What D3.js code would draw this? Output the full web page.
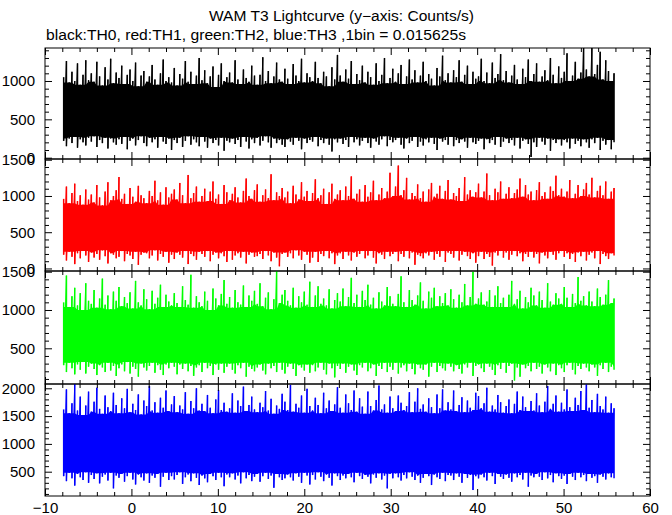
<!DOCTYPE html>
<html><head><meta charset="utf-8">
<script src="https://cdn.jsdelivr.net/npm/d3@7"></script>
<style>
html,body{margin:0;padding:0;background:#fff;}
svg text{font-family:"Liberation Sans",Arial,sans-serif;fill:#000;}
</style></head>
<body><svg id="c" width="672" height="515"></svg>
<script>
// ---- data ----
const title = "WAM T3 Lightcurve (y\u2212axis: Counts/s)";
const subtitle = "black:TH0, red:TH1, green:TH2, blue:TH3 ,1bin = 0.015625s";
const xTickValues = [-10, 0, 10, 20, 30, 40, 50, 60];
const tStart = -8;      // s, start of light curve
const envBin = 0.32;    // s, width of each envelope sample (max / min of raw bins)

const blackHi = [1050,1260,980,1120,1000,1230,950,1080,1270,1010,
1100,990,1250,1060,940,1180,1020,1290,970,1110,
1040,1200,960,1080,1150,1000,1240,930,1070,1130,
990,1060,1210,1020,950,1100,1280,1000,1050,980,
1170,940,1090,1030,1260,990,1120,960,1070,1300,
1010,1140,970,1060,1190,920,1080,1230,1000,1050,
1110,980,1270,1020,960,1150,1040,990,1200,1070,
950,1080,1310,1000,1130,970,1060,1240,1020,990,
1160,1030,960,1220,1070,1000,1290,980,1100,1050,
1000,1250,1040,970,1120,1060,930,1180,1020,1340,
1070,990,1150,1030,1260,960,1090,1010,1200,980,
1120,1050,950,1230,1000,1080,1300,970,1040,1160,
990,1100,1210,960,1060,1280,1020,1140,980,1070,
1250,1000,1090,1030,940,1170,1060,1330,1010,1100,
980,1140,1050,1270,990,1080,1200,960,1120,1030,
1060,1290,1000,1110,970,1240,1040,1090,1350,1010,
1130,980,1070,1210,1020,960,1160,1050,1280,1000,
1090,1230,990,1060,1140,1010,1300,1080,970,1190,
1040,1120,1360,1000,1070,1250,1030,1110,1480,1150,
1060,1490,1090,1210,1380,1020,1270,1130,1000,1100];
const blackLo = [220,150,250,190,270,130,240,200,160,260,
210,280,140,230,190,260,120,250,200,170,
240,180,270,110,220,250,160,230,280,190,
150,260,200,240,130,270,210,180,250,100,
230,190,260,140,220,280,170,240,200,150,
270,210,130,250,190,230,160,260,90,220,
200,250,180,230,140,270,210,120,240,190,
260,160,220,280,200,130,250,190,230,170,
140,240,210,170,260,220,110,250,190,230,
210,270,150,230,190,250,170,80,240,200,
250,180,230,140,270,200,240,160,220,260,
190,130,250,210,170,240,280,150,230,200,
230,260,170,120,250,190,220,270,140,210,
160,240,200,260,180,100,250,210,230,170,
270,150,230,190,240,210,130,260,200,180,
220,250,110,240,190,230,170,270,140,210,
250,190,230,160,260,120,220,240,180,10,
200,140,260,210,170,250,90,230,190,240,
160,230,200,120,250,180,220,150,240,200,
130,240,190,260,100,220,170,230,110,200];

const redHi = [960,1130,900,1040,1170,930,1010,880,1090,950,
1020,910,1150,980,870,1060,1190,940,1000,1080,
1260,960,1030,890,1110,990,920,1140,1010,970,
900,1070,1000,1210,940,1050,880,1120,980,1030,
1090,950,1180,1010,900,1290,970,1040,1130,920,
1000,1100,930,1060,1200,960,1020,890,1150,1050,
940,1030,1120,980,910,1070,1240,1000,960,1080,
1160,920,1010,1090,970,1300,940,1050,1000,1110,
980,1060,900,1140,1020,950,1190,990,1070,930,
1040,1230,970,1010,1100,890,1050,1170,960,1020,
1080,940,1130,1000,1270,960,1030,1090,920,1150,
990,1050,1210,940,1020,1110,970,1060,1320,1000,
1130,1420,1010,1080,1250,950,1040,1000,1160,970,
1060,920,1090,1180,990,1030,1140,960,1070,1220,
950,1040,1000,1110,930,1260,1020,1080,990,1050,
1170,980,1060,1310,1010,940,1100,1050,1200,960,
1030,1120,970,1040,1090,1240,990,1150,1020,1060,
940,1080,1190,1000,1050,960,1130,1070,1280,1010,
1100,990,1060,1220,970,1030,1150,1000,1090,1180,
1020,1250,980,1070,1140,1010,1200,960,1060,1110];
const redLo = [190,110,230,160,60,210,140,240,180,90,
220,150,200,120,250,170,70,210,190,140,
160,240,100,200,180,130,230,50,190,220,
210,140,180,250,110,200,160,230,80,190,
130,220,190,150,240,60,200,170,120,230,
200,160,240,100,190,220,140,210,170,90,
240,120,180,210,150,230,70,190,220,160,
170,200,130,240,180,100,220,150,30,200,
220,160,210,140,250,180,120,230,190,80,
150,230,90,200,170,240,140,210,60,180,
210,130,230,180,110,220,160,200,240,140,
180,240,150,70,210,190,130,230,170,200,
230,100,200,160,240,140,220,50,190,170,
140,210,180,230,120,200,160,240,90,220,
200,150,240,110,190,230,170,130,210,80,
170,230,130,200,160,40,220,180,240,150,
220,120,190,240,170,210,100,200,160,230,
150,200,70,220,180,140,230,190,120,210,
240,160,210,130,200,90,220,170,230,110,
190,220,140,240,60,200,170,130,210,180];

const greenHi = [1100,1450,1040,1180,1290,1060,1220,1000,1350,1120,
1080,1260,1030,1150,1410,1070,1190,1010,1240,1120,
1300,1050,1170,1090,1230,1020,1380,1100,1060,1270,
1140,1010,1250,1080,1160,1330,1040,1200,1110,1060,
1220,1090,1040,1310,1130,1070,1460,1030,1180,1100,
1050,1240,1120,1000,1280,1150,1060,1210,1390,1080,
1170,1030,1260,1100,1070,1320,1040,1190,1120,1250,
1080,1350,1050,1160,1230,1010,1140,1520,1090,1200,
1260,1120,1060,1290,1030,1180,1100,1240,1070,1370,
1040,1190,1310,1080,1150,1060,1270,1020,1130,1220,
1110,1280,1050,1170,1420,1090,1200,1040,1250,1130,
1330,1070,1160,1020,1230,1110,1060,1300,1180,1080,
1050,1210,1440,1100,1040,1260,1130,1070,1190,1360,
1120,1020,1240,1160,1290,1050,1180,1090,1220,1060,
1270,1140,1030,1200,1100,1340,1060,1170,1500,1080,
1150,1230,1070,1110,1260,1040,1190,1310,1090,1160,
1040,1200,1380,1080,1140,1250,1020,1170,1100,1290,
1190,1060,1240,1130,1030,1350,1110,1070,1220,1150,
1080,1300,1160,1040,1210,1090,1430,1120,1180,1060,
1240,1110,1050,1280,1170,1070,1200,1390,1090,1150];
const greenLo = [280,190,310,240,160,290,220,320,170,260,
300,230,150,280,250,190,310,210,270,140,
240,290,200,320,170,260,230,130,300,250,
210,270,310,180,280,220,150,290,240,310,
260,160,290,230,300,200,270,140,250,280,
190,310,240,270,150,290,220,300,180,260,
300,220,170,280,240,310,130,260,230,200,
250,290,210,160,300,240,270,190,310,220,
170,260,300,230,140,280,250,210,290,180,
280,200,250,310,220,160,300,240,120,270,
230,300,180,260,290,210,150,280,250,310,
200,240,290,140,270,230,310,190,260,220,
310,170,250,280,200,300,230,160,290,240,
220,290,130,260,310,190,270,240,210,300,
260,200,280,230,170,290,250,310,140,270,
290,240,190,300,260,220,150,280,230,310,
180,270,300,80,250,130,290,240,270,200,
310,230,260,170,290,250,200,300,150,280,
240,190,280,310,220,160,270,230,300,250,
200,290,250,140,280,230,310,190,260,220];

const blueHi = [1620,1980,1550,1730,2080,1600,1850,1520,1690,1940,
1580,1760,2010,1630,1540,1870,1660,1590,1920,1700,
1550,1820,1640,1990,1570,1720,1610,1890,1530,1780,
1680,2040,1600,1750,1560,1830,1650,1960,1590,1710,
1860,1570,1690,1620,1930,1540,1770,1640,2000,1600,
1720,1590,1880,1650,1550,1800,1970,1610,1740,1580,
1640,1910,1560,1780,1680,2030,1590,1700,1850,1620,
1570,1740,1660,1950,1600,1810,1540,1690,1630,1900,
1760,1610,2060,1580,1720,1650,1870,1560,1990,1680,
1600,1830,1700,1550,1920,1640,1780,1590,1710,2020,
1650,1560,1890,1730,1610,1960,1580,1820,1670,1540,
1940,1680,1600,1790,2050,1620,1710,1560,1850,1640,
1590,1870,1740,1610,1680,1930,1570,1760,2000,1630,
1710,1580,1820,1660,1550,1890,1640,1980,1600,1750,
1620,1960,1590,1700,1840,1570,1780,1650,1610,1920,
1860,1640,1730,2010,1580,1690,1620,1880,1750,1560,
1680,1800,1550,1720,1940,1610,1850,1660,1590,1770,
1600,1910,1690,1570,1760,2040,1630,1720,1870,1580,
1740,1620,1980,1660,1590,1830,1700,1950,1610,2070,
1650,1790,1570,1900,1680,1620,1850,1560,1730,1640];
const blueLo = [420,330,480,380,250,460,400,350,490,300,
440,370,470,290,410,450,340,480,200,430,
390,460,320,420,480,360,270,450,400,340,
470,300,430,390,460,230,410,480,350,420,
360,440,490,280,400,450,330,470,390,260,
430,380,310,460,420,350,480,400,240,450,
400,470,360,430,290,490,380,440,330,410,
460,320,420,480,370,430,210,460,400,350,
380,450,400,340,470,410,300,480,430,270,
440,360,490,410,330,450,390,250,470,420,
350,430,380,460,400,310,480,420,370,440,
410,290,450,390,470,360,430,200,460,380,
470,400,340,440,380,490,410,350,430,300,
390,460,420,260,450,400,370,480,330,440,
430,350,470,410,300,460,390,440,170,420,
380,450,400,340,480,420,280,460,410,370,
450,390,320,470,400,440,360,480,230,430,
400,460,410,350,490,380,440,310,470,420,
370,430,280,460,410,350,480,400,440,330,
460,390,420,300,450,410,360,470,400,380];

const seriesHi = [blackHi, redHi, greenHi, blueHi];
const seriesLo = [blackLo, redLo, greenLo, blueLo];
const seriesColor = ["#000000", "#ff0000", "#00ff00", "#0000ff"];
const yDomains = [[-17, 1430], [-35, 1510], [34, 1509], [63, 2077]];
const yMajorTicks = [[0, 500, 1000], [0, 500, 1000, 1500], [500, 1000, 1500], [500, 1000, 1500, 2000]];

// ---- layout ----
const svg = d3.select("#c");
const left = 45, right = 650;
const panelEdges = [48, 159, 271, 384, 496];
const x = d3.scaleLinear().domain([-10, 60]).range([left, right]);
const xMinor = d3.range(-10, 61, 2);
const FS = 15;

svg.append("text").attr("x", 209).attr("y", 21)
  .attr("textLength", 265).attr("lengthAdjust", "spacingAndGlyphs")
  .style("font-size", "14px").text(title);
svg.append("text").attr("x", 46).attr("y", 40)
  .attr("textLength", 420).attr("lengthAdjust", "spacingAndGlyphs")
  .style("font-size", "14px").text(subtitle);

seriesHi.forEach((hi, p) => {
  const lo = seriesLo[p];
  const col = seriesColor[p];
  const top = panelEdges[p], bot = panelEdges[p + 1];
  const y = d3.scaleLinear().domain(yDomains[p]).range([bot, top]);
  const g = svg.append("g");
  const cid = "clip" + p;
  svg.append("clipPath").attr("id", cid).append("rect")
    .attr("x", left).attr("y", top).attr("width", right - left).attr("height", bot - top);
  const dg = g.append("g").attr("clip-path", `url(#${cid})`);

  const pts = hi.map((h, i) => ({
    t: tStart + (i + 0.5) * envBin, h: h, l: lo[i],
    ch: d3.min(hi.slice(Math.max(0, i - 2), i + 3)),
    cl: d3.max(lo.slice(Math.max(0, i - 2), i + 3))
  }));
  // dense core of the light curve
  const area = d3.area().x(d => x(d.t)).y0(d => y(d.cl)).y1(d => y(d.ch));
  dg.append("path").datum(pts).attr("d", area).attr("fill", col);
  // individual excursions (max / min of raw bins)
  dg.selectAll("line.v").data(pts).join("line").attr("class", "v")
    .attr("x1", d => x(d.t)).attr("x2", d => x(d.t))
    .attr("y1", d => y(d.h)).attr("y2", d => y(d.l))
    .attr("stroke", col).attr("stroke-width", 1.5);
  dg.selectAll("line.w").data(pts.slice(0, -1)).join("line").attr("class", "w")
    .attr("x1", (d, i) => x(d.t)).attr("x2", (d, i) => x(pts[i + 1].t))
    .attr("y1", d => y(d.l)).attr("y2", (d, i) => y(pts[i + 1].h))
    .attr("stroke", col).attr("stroke-width", 1);

  const [d0, d1] = yDomains[p];
  const yMinor = d3.range(Math.ceil(d0 / 100) * 100, d1 + 1, 100).filter(v => v % 500 !== 0);
  const yMajor = yMajorTicks[p];
  const mk = (axis, tr) => {
    const a = g.append("g").attr("transform", tr).call(axis);
    a.select(".domain").remove();
    a.selectAll("line").attr("stroke", "#000").attr("stroke-width", 1);
    a.selectAll("text").style("font-size", FS + "px").attr("fill", "#000").style("font-family", '"Liberation Sans",Arial,sans-serif');
    return a;
  };
  mk(d3.axisLeft(y).tickValues(yMajor).tickSize(-7).tickPadding(10).tickFormat(d3.format("d")), `translate(${left},0)`);
  mk(d3.axisLeft(y).tickValues(yMinor).tickSize(-4).tickFormat(""), `translate(${left},0)`);
  mk(d3.axisRight(y).tickValues(yMajor).tickSize(-7).tickFormat(""), `translate(${right},0)`);
  mk(d3.axisRight(y).tickValues(yMinor).tickSize(-4).tickFormat(""), `translate(${right},0)`);
  const xMaj = xTickValues, xMin = xMinor.filter(v => v % 10 !== 0);
  mk(d3.axisTop(x).tickValues(xMaj).tickSize(-7).tickFormat(""), `translate(0,${top})`);
  mk(d3.axisTop(x).tickValues(xMin).tickSize(-4).tickFormat(""), `translate(0,${top})`);
  const last = p === seriesHi.length - 1;
  mk(d3.axisBottom(x).tickValues(xMaj).tickSize(-7).tickPadding(6)
      .tickFormat(last ? d3.format("d") : ""), `translate(0,${bot})`);
  mk(d3.axisBottom(x).tickValues(xMin).tickSize(-4).tickFormat(""), `translate(0,${bot})`);

  g.append("rect").attr("x", left).attr("y", top).attr("width", right - left).attr("height", bot - top)
    .attr("fill", "none").attr("stroke", "#000").attr("stroke-width", 1);
});
</script></body></html>
